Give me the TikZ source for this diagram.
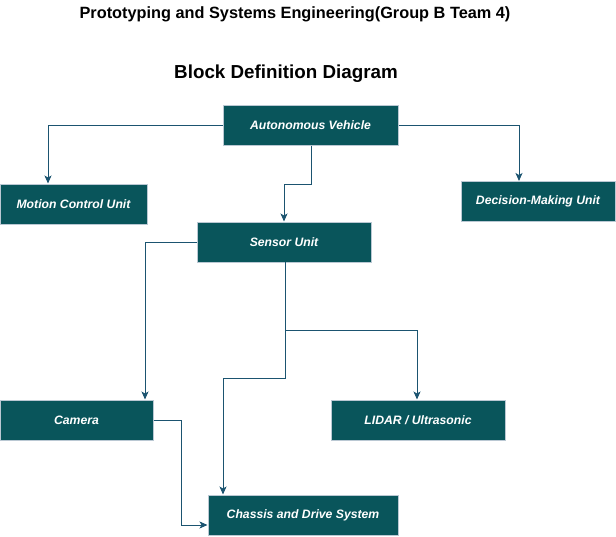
\documentclass[tikz,border=0pt]{standalone}
\usepackage{fontspec}
\setmainfont{Liberation Sans}
\usetikzlibrary{arrows.meta}
\definecolor{boxfill}{HTML}{09555B}
\definecolor{boxline}{HTML}{BAC8D3}
\definecolor{edgecol}{HTML}{1B5470}
\begin{document}
\begin{tikzpicture}[x=1pt,y=-1pt,
  blk/.style={draw=boxline, fill=boxfill, line width=1pt, inner sep=0pt,
    text=white, font=\fontsize{12.2}{14}\selectfont\bfseries\itshape},
  conn/.style={draw=edgecol, line width=1pt, -{Stealth[length=8pt,width=7pt,inset=2pt]}}]
\useasboundingbox (0,0) rectangle (616,536);
\node[font=\fontsize{16.3}{18}\selectfont\bfseries] (title) at (295,14) {Prototyping and Systems Engineering(Group B Team 4)};
\node[font=\fontsize{18.8}{21}\selectfont\bfseries] (sub) at (286,74) {Block Definition Diagram};

\node[blk, minimum width=175pt, minimum height=40pt] (av) at (310.5,125) {Autonomous Vehicle};
\node[blk, minimum width=147pt, minimum height=40pt] (mcu) at (73.5,204) {Motion Control Unit};
\node[blk, minimum width=154pt, minimum height=40pt] (dmu) at (538,201.5) {Decision-Making Unit};
\node[blk, minimum width=174pt, minimum height=40pt] (su) at (284,242) {Sensor Unit};
\node[blk, minimum width=153pt, minimum height=40pt] (cam) at (76.5,420) {Camera};
\node[blk, minimum width=174pt, minimum height=40pt] (lid) at (418,420) {LIDAR / Ultrasonic};
\node[blk, minimum width=190pt, minimum height=40pt] (ch) at (303,515) {Chassis and Drive System};

\coordinate (a1) at (48,125);
\coordinate (a2) at (519,125);
\coordinate (b1) at (311,184);
\coordinate (b2) at (284,184);
\coordinate (c1) at (145,242);
\coordinate (s0) at (285,262);
\coordinate (s1) at (285,330);
\coordinate (s2) at (417,330);
\coordinate (s3) at (285,378);
\coordinate (s4) at (223,378);
\coordinate (k1) at (181,420);
\coordinate (k2) at (181,525);

\draw[conn] (av.west) -- (a1) -- (a1 |- mcu.north);
\draw[conn] (av.east) -- (a2) -- (a2 |- dmu.north);
\draw[conn] (b1 |- av.south) -- (b1) -- (b2) -- (b2 |- su.north);
\draw[conn] (su.west) -- (c1) -- (c1 |- cam.north);
\draw[conn] (s0) -- (s1) -- (s2) -- (s2 |- lid.north);
\draw[conn] (s0) -- (s3) -- (s4) -- (s4 |- ch.north);
\draw[conn] (cam.east) -- (k1) -- (k2) -- (k2 -| ch.west);
\end{tikzpicture}
\end{document}
